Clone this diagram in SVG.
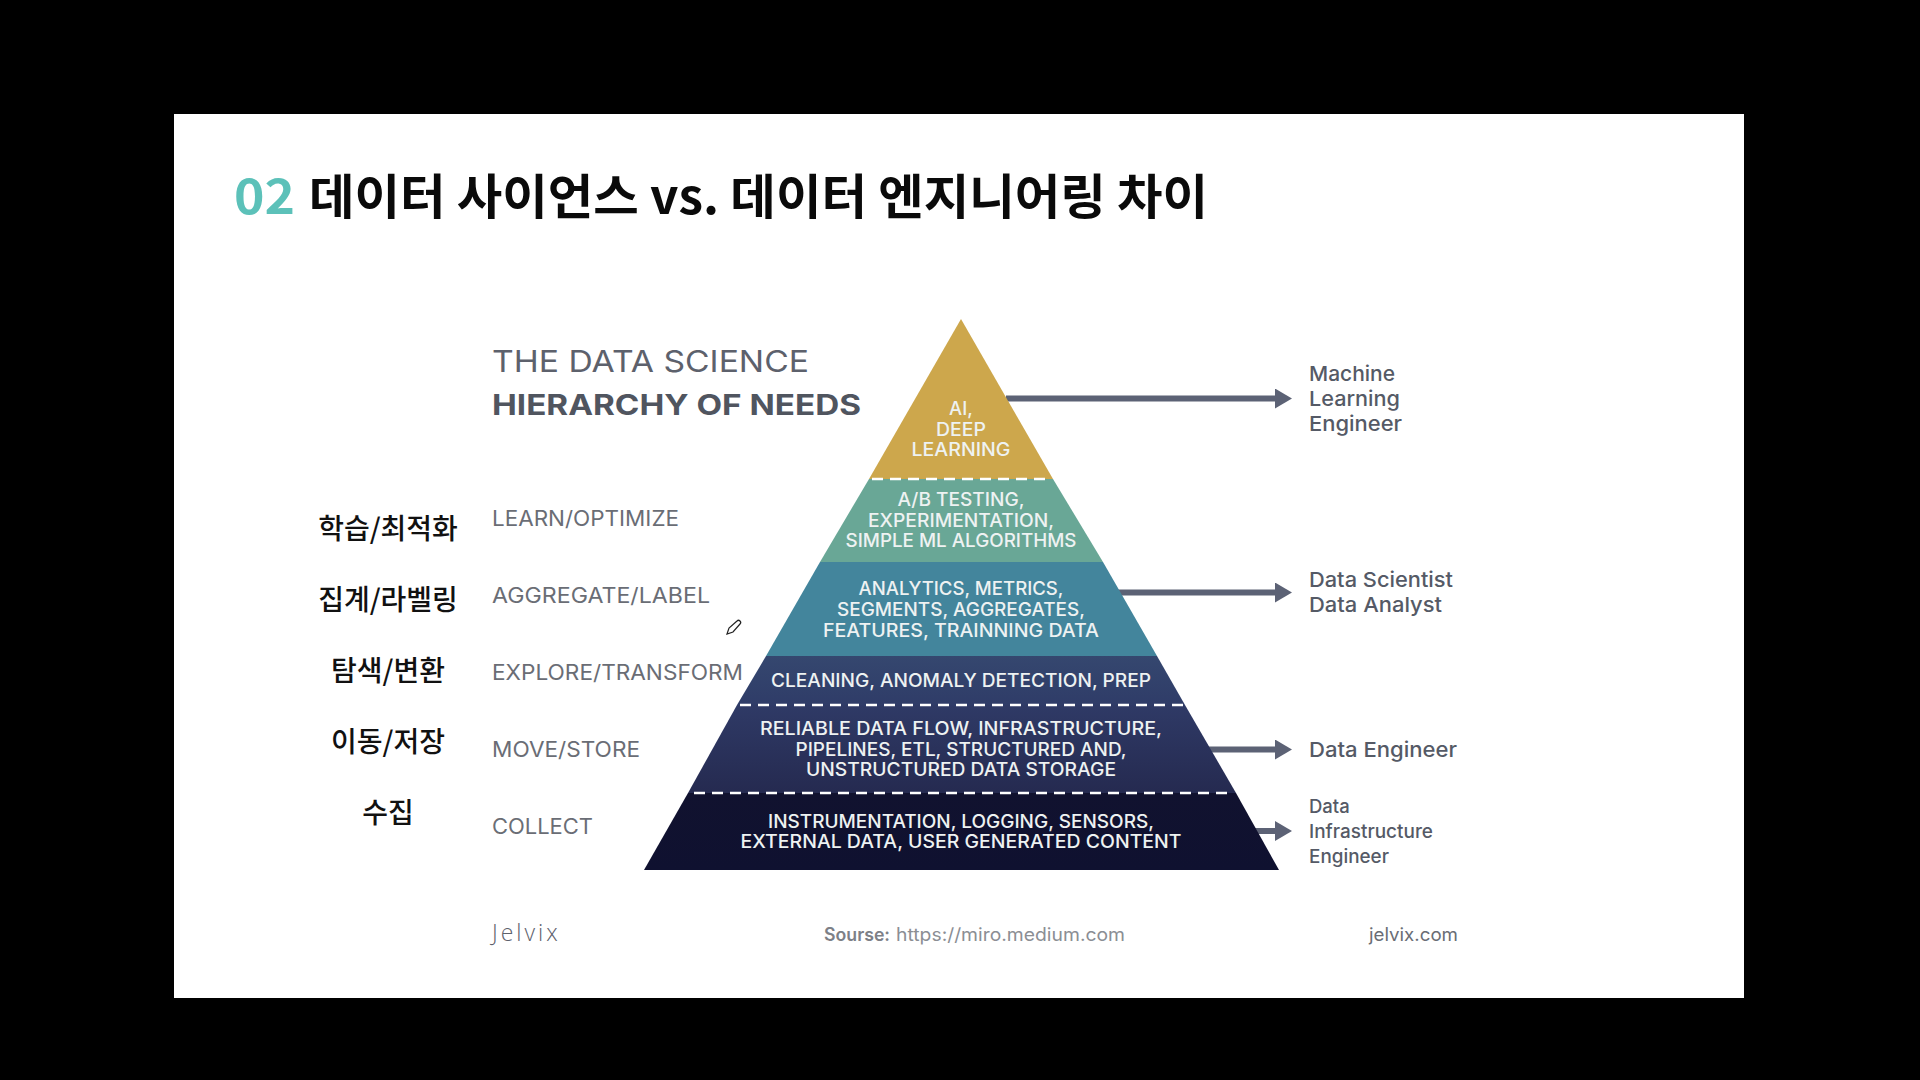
<svg xmlns="http://www.w3.org/2000/svg" width="1920" height="1080" viewBox="0 0 1920 1080">
<style>
text{font-family:"Inter","Liberation Sans",sans-serif}
.t{font-family:"Noto Sans CJK KR",sans-serif;font-weight:700;font-size:48px}
.k{font-family:"Noto Sans CJK KR",sans-serif;font-size:28px;fill:#111;text-anchor:middle;font-weight:500}
.l{font-size:21px;fill:#6a6d75;font-weight:400}
.p{font-size:18.5px;fill:#eef2f2;text-anchor:middle;font-weight:500}
.r{font-size:20.5px;fill:#555a66;font-weight:500}
.f{font-size:18px;fill:#8b8e94;font-weight:400}
.d{stroke:#fff;stroke-width:2.5;stroke-dasharray:11 7;fill:none}
.c{stroke:#5c6275;stroke-width:6;fill:none;marker-end:url(#ah)}
</style>
<defs>
<marker id="ah" markerUnits="userSpaceOnUse" markerWidth="18" markerHeight="20" refX="0" refY="10" orient="auto"><path d="M0 0L17 10L0 20Z" fill="#5c6275"/></marker>
<linearGradient id="g4" x1="0" y1="656" x2="0" y2="705" gradientUnits="userSpaceOnUse"><stop offset="0" stop-color="#35476f"/><stop offset="1" stop-color="#2f3c68"/></linearGradient>
<linearGradient id="g5" x1="0" y1="705" x2="0" y2="793" gradientUnits="userSpaceOnUse"><stop offset="0" stop-color="#2f3a66"/><stop offset="1" stop-color="#252a50"/></linearGradient>
<linearGradient id="g6" x1="0" y1="793" x2="0" y2="870" gradientUnits="userSpaceOnUse"><stop offset="0" stop-color="#11122f"/><stop offset="1" stop-color="#0f1130"/></linearGradient>
</defs>
<rect width="1920" height="1080" fill="#000"/>
<rect x="174" y="114" width="1570" height="884" fill="#fff"/>
<g id="title">
<text class="t" x="234" y="214" fill="#5cc1b9" textLength="61" lengthAdjust="spacingAndGlyphs">02</text>
<text class="t" x="309" y="214" fill="#0a0a0a" textLength="899" lengthAdjust="spacingAndGlyphs">데이터 사이언스 vs. 데이터 엔지니어링 차이</text>
</g>
<g id="heading">
<text x="492" y="372" font-size="30" fill="#5d616c" textLength="317" lengthAdjust="spacingAndGlyphs">THE DATA SCIENCE</text>
<text x="492" y="415" font-size="28" font-weight="700" fill="#50555f" textLength="369" lengthAdjust="spacingAndGlyphs">HIERARCHY OF NEEDS</text>
</g>
<g id="korean-labels">
<text class="k" x="388" y="539">학습/최적화</text>
<text class="k" x="388" y="610">집계/라벨링</text>
<text class="k" x="388" y="681">탐색/변환</text>
<text class="k" x="388" y="752">이동/저장</text>
<text class="k" x="388" y="823">수집</text>
</g>
<g id="stage-labels">
<text class="l" x="492" y="526" textLength="187" lengthAdjust="spacingAndGlyphs">LEARN/OPTIMIZE</text>
<text class="l" x="492" y="603" textLength="218" lengthAdjust="spacingAndGlyphs">AGGREGATE/LABEL</text>
<text class="l" x="492" y="680" textLength="251" lengthAdjust="spacingAndGlyphs">EXPLORE/TRANSFORM</text>
<text class="l" x="492" y="757" textLength="148" lengthAdjust="spacingAndGlyphs">MOVE/STORE</text>
<text class="l" x="492" y="834" textLength="101" lengthAdjust="spacingAndGlyphs">COLLECT</text>
</g>
<g id="connectors">
<path class="c" d="M1006 398.500H1275"/>
<path class="c" d="M1118 592.500H1275"/>
<path class="c" d="M1207 749.500H1275"/>
<path class="c" d="M1255 831H1275"/>
</g>
<g id="level-ai">
<path d="M961 319L1053 479H869Z" fill="#cda74c"/>
<text class="p" x="961" y="415">AI,</text>
<text class="p" x="961" y="436" textLength="50" lengthAdjust="spacingAndGlyphs">DEEP</text>
<text class="p" x="961" y="456" textLength="99" lengthAdjust="spacingAndGlyphs">LEARNING</text>
</g>
<g id="level-ab">
<path d="M869 479H1053L1103 562H820Z" fill="#69a796"/>
<text class="p" x="961" y="506" textLength="127" lengthAdjust="spacingAndGlyphs">A/B TESTING,</text>
<text class="p" x="961" y="527" textLength="186" lengthAdjust="spacingAndGlyphs">EXPERIMENTATION,</text>
<text class="p" x="961" y="547" textLength="231" lengthAdjust="spacingAndGlyphs">SIMPLE ML ALGORITHMS</text>
</g>
<g id="level-analytics">
<path d="M820 562H1103L1157 656H766Z" fill="#43859c"/>
<text class="p" x="961" y="595" textLength="205" lengthAdjust="spacingAndGlyphs">ANALYTICS, METRICS,</text>
<text class="p" x="961" y="616" textLength="248" lengthAdjust="spacingAndGlyphs">SEGMENTS, AGGREGATES,</text>
<text class="p" x="961" y="637" textLength="276" lengthAdjust="spacingAndGlyphs">FEATURES, TRAINNING DATA</text>
</g>
<g id="level-cleaning">
<path d="M766 656H1157L1185 705H737Z" fill="url(#g4)"/>
<text class="p" x="961" y="687" textLength="380" lengthAdjust="spacingAndGlyphs">CLEANING, ANOMALY DETECTION, PREP</text>
</g>
<g id="level-reliable">
<path d="M737 705H1185L1236 793H688Z" fill="url(#g5)"/>
<text class="p" x="961" y="735" textLength="402" lengthAdjust="spacingAndGlyphs">RELIABLE DATA FLOW, INFRASTRUCTURE,</text>
<text class="p" x="961" y="756" textLength="331" lengthAdjust="spacingAndGlyphs">PIPELINES, ETL, STRUCTURED AND,</text>
<text class="p" x="961" y="776" textLength="310" lengthAdjust="spacingAndGlyphs">UNSTRUCTURED DATA STORAGE</text>
</g>
<g id="level-collect">
<path d="M688 793H1236L1279 870H644Z" fill="url(#g6)"/>
<text class="p" x="961" y="828" textLength="386" lengthAdjust="spacingAndGlyphs">INSTRUMENTATION, LOGGING, SENSORS,</text>
<text class="p" x="961" y="848" textLength="441" lengthAdjust="spacingAndGlyphs">EXTERNAL DATA, USER GENERATED CONTENT</text>
</g>
<path class="d" d="M872 479H1052M740 705H1183M694 793H1230"/>
<g id="role-ml">
<text class="r" x="1309" y="381" textLength="86" lengthAdjust="spacingAndGlyphs">Machine</text>
<text class="r" x="1309" y="406" textLength="91" lengthAdjust="spacingAndGlyphs">Learning</text>
<text class="r" x="1309" y="431" textLength="93" lengthAdjust="spacingAndGlyphs">Engineer</text>
</g>
<g id="role-ds">
<text class="r" x="1309" y="587" textLength="144" lengthAdjust="spacingAndGlyphs">Data Scientist</text>
<text class="r" x="1309" y="612" textLength="133" lengthAdjust="spacingAndGlyphs">Data Analyst</text>
</g>
<g id="role-de"><text class="r" x="1309" y="757" textLength="148" lengthAdjust="spacingAndGlyphs">Data Engineer</text></g>
<g id="role-di">
<text class="r" x="1309" y="813" style="font-size:18.5px">Data</text>
<text class="r" x="1309" y="838" style="font-size:18.5px" textLength="124" lengthAdjust="spacingAndGlyphs">Infrastructure</text>
<text class="r" x="1309" y="863" style="font-size:18.5px" textLength="80" lengthAdjust="spacingAndGlyphs">Engineer</text>
</g>
<g id="footer">
<text x="492" y="941" font-size="23" fill="#5d616c" letter-spacing="3" style="font-family:'Open Sans',sans-serif;font-weight:300">Jelvix</text>
<text class="f" x="824" y="941" style="font-weight:600;fill:#7d8087" textLength="66" lengthAdjust="spacingAndGlyphs">Sourse:</text>
<text class="f" x="896" y="941" textLength="229" lengthAdjust="spacingAndGlyphs">https://miro.medium.com</text>
<text class="f" x="1369" y="941" style="fill:#6a6d75" textLength="89" lengthAdjust="spacingAndGlyphs">jelvix.com</text>
</g>
<path id="pencil" d="M727 634L729 628L737 621C739 619 742 622 740 624L733 632Z" fill="#fff" stroke="#222" stroke-width="1.2"/>
</svg>
